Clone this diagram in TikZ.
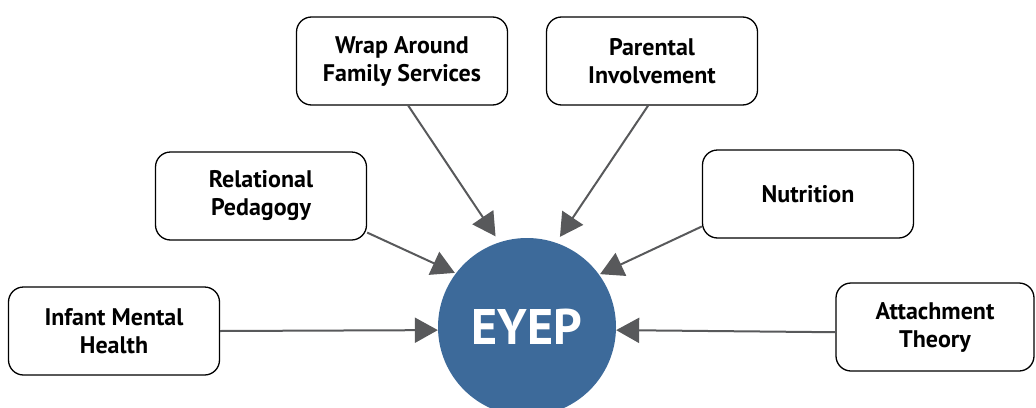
\documentclass[tikz,border=0pt]{standalone}
\usepackage{fontspec}
\setsansfont{PT Sans}
\usetikzlibrary{arrows.meta}

\definecolor{eyepblue}{HTML}{3D6A9A}
\definecolor{linkgray}{HTML}{58595B}

\begin{document}
\begin{tikzpicture}[x=1pt,y=-1pt,>={Triangle[length=23pt,width=25pt]},
  topic node/.style={draw=black,line width=1.3pt,rounded corners=15pt,fill=white,align=center,
    minimum width=211pt,minimum height=88pt,font=\sffamily\bfseries\fontsize{24}{28}\selectfont},
  hub node/.style={circle,fill=eyepblue,minimum size=178pt,text=white,
    font=\sffamily\bfseries\fontsize{50}{60}\selectfont}]

  \useasboundingbox (0,0) rectangle (1036,407);

  \node[hub node] (eyep) at (527,327) {EYEP};

  \node[topic node] (imh) at (114,331) {Infant Mental\\Health};
  \node[topic node] (rp) at (261,196) {Relational\\Pedagogy};
  \node[topic node] (wafs) at (402,61) {Wrap Around\\Family Services};
  \node[topic node] (pi) at (652,61) {Parental\\Involvement};
  \node[topic node] (nut) at (808,194) {Nutrition};
  \node[topic node,minimum width=198pt] (at) at (935,327) {Attachment\\Theory};

  \path[every edge/.style={draw=linkgray,line width=2pt,->}]
    (imh.east) edge (eyep.182)
    (rp.-19) edge[shorten >=1pt] (eyep.143)
    (wafs.-82) edge[shorten >=7pt] (eyep.108)
    (pi.-95) edge[shorten >=7pt] (eyep.71)
    (nut.197) edge[shorten >=1pt] (eyep.36)
    (at.183) edge (eyep.-2)
    ;
\end{tikzpicture}
\end{document}
